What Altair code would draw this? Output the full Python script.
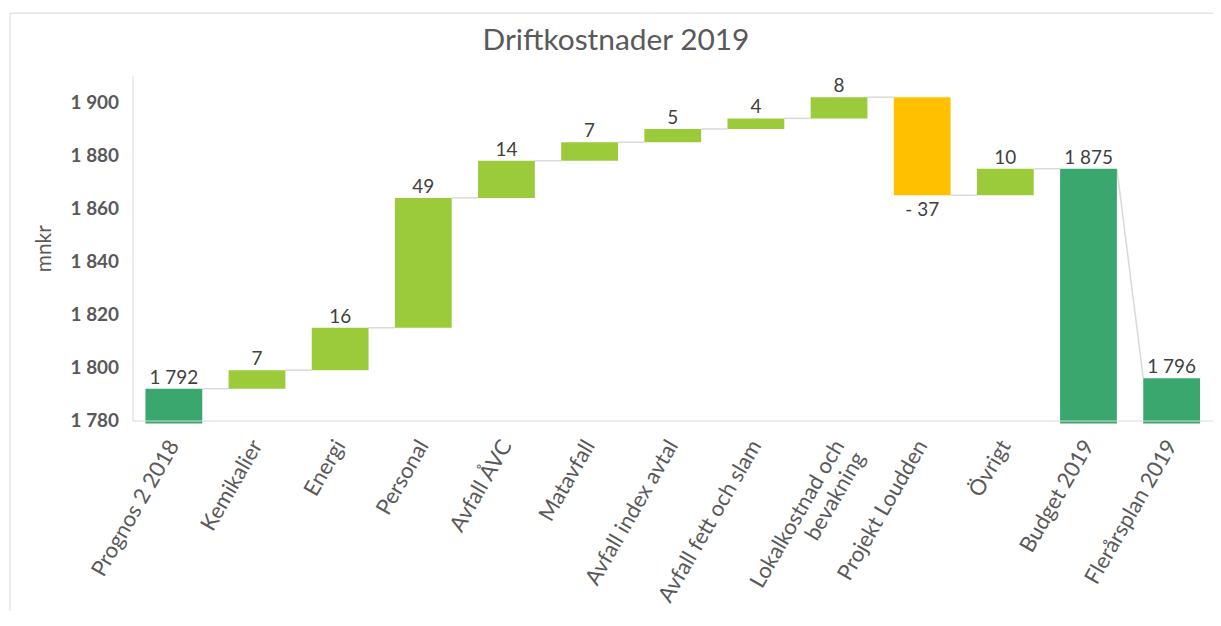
import json
import altair as alt
import pandas as pd

# ---- data ----
categories = ["Prognos 2 2018", "Kemikalier", "Energi", "Personal", "Avfall ÅVC",
              "Matavfall", "Avfall index avtal", "Avfall fett och slam",
              "Lokalkostnad och bevakning", "Projekt Loudden", "Övrigt",
              "Budget 2019", "Flerårsplan 2019"]
values = [1792, 7, 16, 49, 14, 7, 5, 4, 8, -37, 10, 1875, 1796]
kinds = ["total", "up", "up", "up", "up", "up", "up", "up", "up", "down", "up",
         "total", "total"]
y_ticks = [1780, 1800, 1820, 1840, 1860, 1880, 1900]
label_lines = {"Lokalkostnad och bevakning": ["Lokalkostnad och", "bevakning"]}
Y_MIN, Y_MAX = 1780, 1910

colors = {"total": "#3AA86E", "up": "#9BCB3B", "down": "#FFC000"}
FONT = "Lato"
GREY = "#595959"


def fmt(v):
    s = f"{abs(v):,}".replace(",", " ")
    return f"- {s}" if v < 0 else s


rows = []
running = 0
for c, v, k in zip(categories, values, kinds):
    if k == "total":
        lo, hi, end, link = Y_MIN, v, v, v
        running = v
    else:
        start = running
        end = running + v
        running = end
        lo, hi, link = min(start, end), max(start, end), start
    rows.append(dict(cat=c, kind=k, lo=lo, hi=hi, end=end, link=link, label=fmt(v)))
df = pd.DataFrame(rows)

conn = pd.DataFrame([
    dict(cat=rows[i]["cat"], nxt=rows[i + 1]["cat"], y=rows[i]["end"], y2=rows[i + 1]["link"])
    for i in range(len(rows) - 1)
])

x_scale = alt.Scale(domain=categories, paddingInner=0.317, paddingOuter=0.156)
y_scale = alt.Scale(domain=[Y_MIN, Y_MAX], nice=False, zero=False)

label_expr = "datum.label"
for name, parts in label_lines.items():
    label_expr = f"datum.label == {json.dumps(name)} ? {json.dumps(parts)} : " + label_expr

x_axis = alt.Axis(title=None, labelAngle=300, labelAlign="right", labelBaseline="middle",
                  labelFontSize=22, labelColor=GREY, labelFont=FONT, labelPadding=21,
                  labelLimit=400, labelOverlap=False, ticks=False, domainColor="#D9D9D9",
                  labelExpr=label_expr, zindex=1)
y_axis = alt.Axis(title="mnkr", values=y_ticks, grid=False, ticks=False,
                  labelFontSize=19, labelFontWeight="bold", labelColor=GREY, labelFont=FONT,
                  labelPadding=14, domainColor="#D9D9D9",
                  labelExpr="replace(format(datum.value, ','), ',', ' ')",
                  titleFont=FONT, titleFontSize=21, titleFontWeight="normal",
                  titleColor=GREY, titlePadding=16)

color = alt.Color("kind:N", scale=alt.Scale(domain=list(colors), range=list(colors.values())),
                  legend=None)

base = alt.Chart(df)

totals = base.transform_filter("datum.kind == 'total'").mark_bar(y2Offset=3).encode(
    x=alt.X("cat:N", scale=x_scale, sort=categories, axis=x_axis),
    y=alt.Y("hi:Q", scale=y_scale, axis=y_axis),
    y2="lo:Q",
    color=color,
)
deltas = base.transform_filter("datum.kind != 'total'").mark_bar().encode(
    x=alt.X("cat:N", scale=x_scale, sort=categories),
    y=alt.Y("hi:Q", scale=y_scale),
    y2="lo:Q",
    color=color,
)

connectors = alt.Chart(conn).mark_rule(color="#D9D9D9", strokeWidth=1.5).encode(
    x=alt.X("cat:N", scale=x_scale, sort=categories, bandPosition=1),
    x2=alt.X2("nxt:N", bandPosition=0),
    y=alt.Y("y:Q", scale=y_scale),
    y2="y2:Q",
)

top_labels = base.transform_filter("datum.kind != 'down'").mark_text(
    baseline="alphabetic", dy=-5, fontSize=19, font=FONT, color="#404040").encode(
    x=alt.X("cat:N", scale=x_scale, sort=categories),
    y=alt.Y("hi:Q", scale=y_scale),
    text="label:N",
)
bottom_labels = base.transform_filter("datum.kind == 'down'").mark_text(
    baseline="alphabetic", dy=21, fontSize=19, font=FONT, color="#404040").encode(
    x=alt.X("cat:N", scale=x_scale, sort=categories),
    y=alt.Y("lo:Q", scale=y_scale),
    text="label:N",
)

border = alt.Chart(pd.DataFrame({"a": [0]})).mark_rect(
    fillOpacity=0, stroke="#D9D9D9", strokeWidth=1).encode(
    x=alt.value(-123), x2=alt.value(2000), y=alt.value(-63), y2=alt.value(2000))

chart = alt.layer(border, connectors, totals, deltas, top_labels, bottom_labels).properties(
    width=1085, height=346,
    autosize=alt.AutoSizeParams(type="none"),
    padding={"left": 125, "top": 67, "right": 0, "bottom": 190},
    title=alt.Title("Driftkostnader 2019", fontSize=30, color=GREY, font=FONT,
                    fontWeight="normal", frame="group", anchor="middle",
                    dx=-57, offset=-67, baseline="alphabetic"),
).configure_view(strokeWidth=0)

chart.save("out.html", embed_options={"renderer": "svg", "actions": False})
